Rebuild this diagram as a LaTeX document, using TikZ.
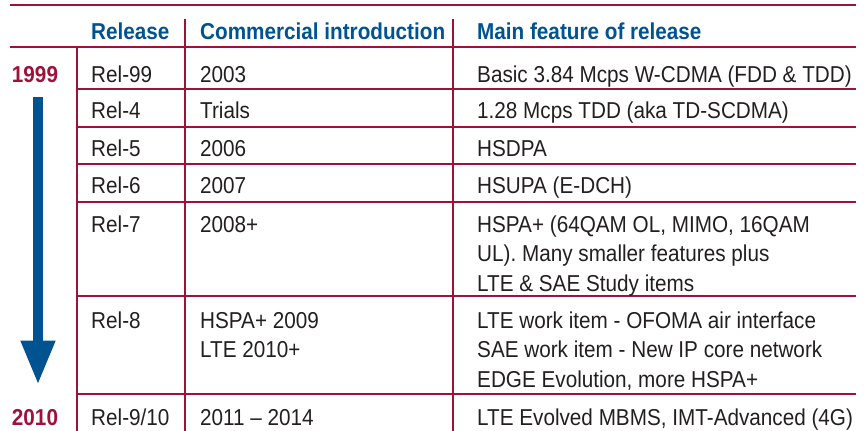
\documentclass[tikz,border=0pt]{standalone}
\usepackage{fontspec}
\setmainfont[FakeStretch=0.9]{Liberation Sans}
\usetikzlibrary{arrows.meta}
\definecolor{wine}{RGB}{158,18,58}
\definecolor{agblue}{RGB}{0,83,145}
\definecolor{ink}{RGB}{35,31,32}
\begin{document}
\begin{tikzpicture}[x=1pt, y=-1pt,
  cell/.style={anchor=base west, inner sep=0pt, align=left, text=ink,
               font=\fontsize{23}{29.5}\selectfont},
  head/.style={cell, text=agblue, font=\fontsize{23}{29.5}\selectfont\bfseries},
  year/.style={anchor=base, inner sep=0pt, text=wine, font=\fontsize{23}{29.5}\selectfont\bfseries},
  rule/.style={draw=wine, line width=1.5pt},
  timeline/.style={draw=agblue, line width=10pt, -{Triangle[width=32pt,length=44pt]}}
]
\useasboundingbox (0,0) rectangle (865,431);
\draw[rule, line width=2.5pt] (10,5) -- (856,5);
\draw[rule] (10,47) -- (856,47);
\draw[rule] (185,19) -- (185,431) (453,19) -- (453,431) (77,47) -- (77,431);
\draw[rule] (77,89) -- (856,89) (77,127) -- (856,127) (77,164) -- (856,164)
  (77,202) -- (856,202) (77,296) -- (856,296) (77,394) -- (856,394);
\node[head] (hrel)  at (91,39)  {Release};
\node[head] (hcom)  at (200,39) {Commercial introduction};
\node[head] (hfeat) at (477,39) {Main feature of release};
\node[year] (y1999) at (35,82)  {1999};
\node[year] (y2010) at (35,425) {2010};
\node[cell] (r1) at (91,82)  {Rel-99};
\node[cell] (c1) at (200,82) {2003};
\node[cell] (f1) at (477,82) {Basic 3.84 Mcps W-CDMA (FDD \& TDD)};
\node[cell] (r2) at (91,118)  {Rel-4};
\node[cell] (c2) at (200,118) {Trials};
\node[cell] (f2) at (477,118) {1.28 Mcps TDD (aka TD-SCDMA)};
\node[cell] (r3) at (91,156)  {Rel-5};
\node[cell] (c3) at (200,156) {2006};
\node[cell] (f3) at (477,156) {HSDPA};
\node[cell] (r4) at (91,193)  {Rel-6};
\node[cell] (c4) at (200,193) {2007};
\node[cell] (f4) at (477,193) {HSUPA (E-DCH)};
% multi-line cells sit on the baseline of their last line
\node[cell] (r5) at (91,232)  {Rel-7};
\node[cell] (c5) at (200,232) {2008+};
\node[cell] (f5) at (477,291) {HSPA+ (64QAM OL, MIMO, 16QAM\\UL). Many smaller features plus\\LTE \& SAE Study items};
\node[cell] (r6) at (91,328)  {Rel-8};
\node[cell] (c6) at (200,357.5) {HSPA+ 2009\\LTE 2010+};
\node[cell] (f6) at (477,387) {LTE work item - OFOMA air interface\\SAE work item - New IP core network\\EDGE Evolution, more HSPA+};
\node[cell] (r7) at (91,425)  {Rel-9/10};
\node[cell] (c7) at (200,425) {2011 -- 2014};
\node[cell] (f7) at (477,425) {LTE Evolved MBMS, IMT-Advanced (4G)};
\draw[timeline] ([xshift=3pt,yshift=-15pt]y1999.south) -- ([xshift=3pt,yshift=24pt]y2010.north);
\end{tikzpicture}
\end{document}
